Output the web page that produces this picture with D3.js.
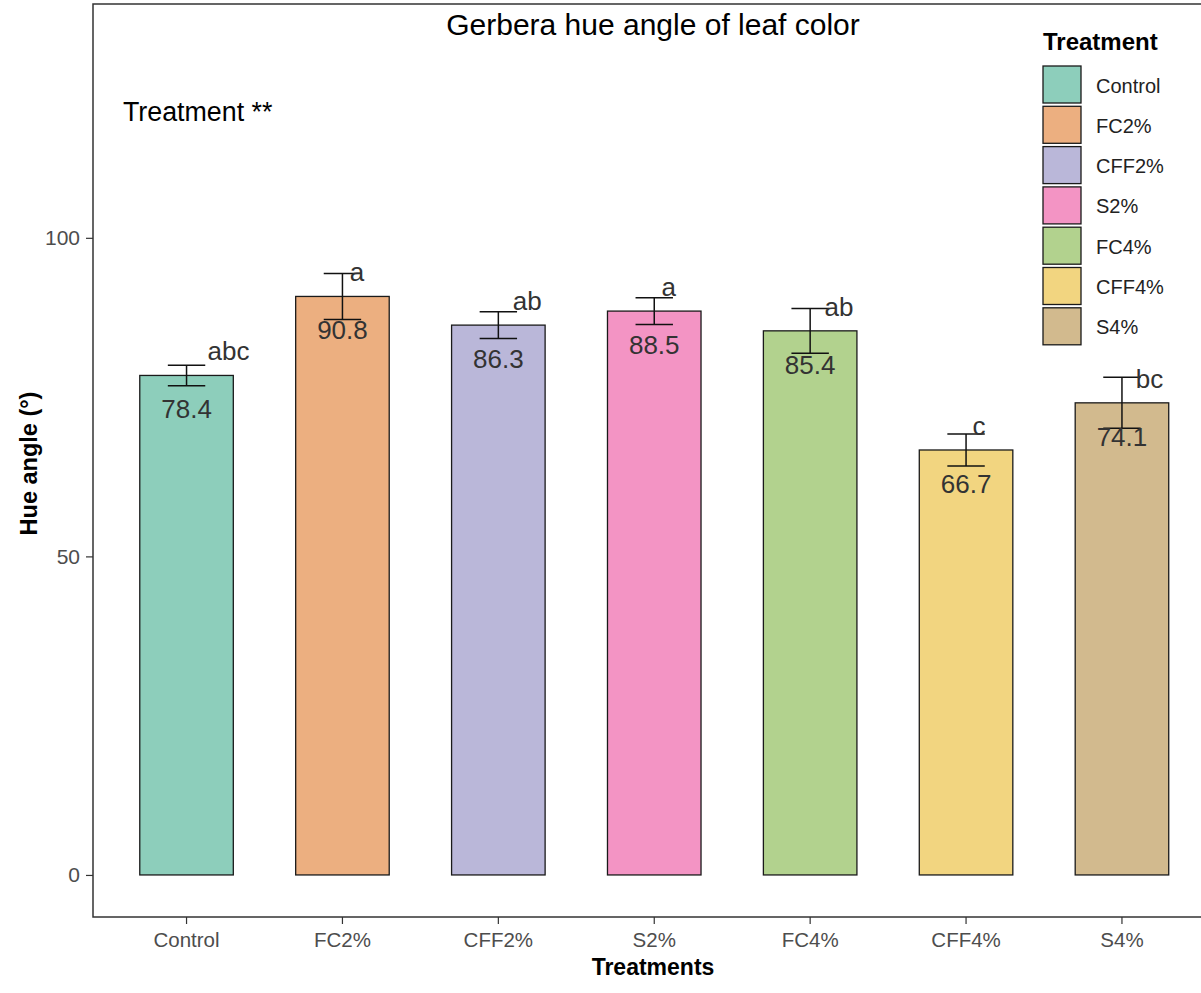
<!DOCTYPE html>
<html>
<head>
<meta charset="utf-8">
<script src="https://cdn.jsdelivr.net/npm/d3@7"></script>
<style>
  html, body { margin: 0; padding: 0; background: #fff; }
  svg { display: block; font-family: Arial, "Liberation Sans", sans-serif; }
</style>
</head>
<body>
<svg id="chart" width="1201" height="993"></svg>
<script>
const categories = ["Control", "FC2%", "CFF2%", "S2%", "FC4%", "CFF4%", "S4%"];
const means = [78.4, 90.8, 86.3, 88.5, 85.4, 66.7, 74.1];
const errors = [1.6, 3.6, 2.1, 2.1, 3.5, 2.5, 4.0];
const letters = ["abc", "a", "ab", "a", "ab", "c", "bc"];
const colors = ["#1b9e77", "#d95f02", "#7570b3", "#e7298a", "#66a61e", "#e6ab02", "#a6761d"];
const yTicks = [0, 50, 100];
const titleText = "Gerbera hue angle of leaf color";
const annotationText = "Treatment **";
const xTitle = "Treatments";
const yTitle = "Hue angle (°)";
const legendTitle = "Treatment";

const svg = d3.select("#chart");
const panel = { left: 93, right: 1215.5, top: 4, bottom: 917 };

const x = d3.scaleBand().domain(categories)
  .range([panel.left, panel.right]).paddingInner(0.4).paddingOuter(0.3);
const y = d3.scaleLinear().domain([-6.6, 136.7]).range([panel.bottom, panel.top]);
const color = d3.scaleOrdinal().domain(categories).range(colors);

svg.append("rect").attr("width", 1201).attr("height", 993).attr("fill", "#fff");

// bars
const g = svg.append("g");
g.selectAll("rect.bar").data(categories).join("rect")
  .attr("class", "bar")
  .attr("x", d => x(d))
  .attr("width", x.bandwidth())
  .attr("y", (d, i) => y(means[i]))
  .attr("height", (d, i) => y(0) - y(means[i]))
  .attr("fill", d => color(d))
  .attr("fill-opacity", 0.5)
  .attr("stroke", "#1a1a1a")
  .attr("stroke-width", 1.3);

// error bars
const capW = x.bandwidth() * 0.4;
categories.forEach((c, i) => {
  const cx = x(c) + x.bandwidth() / 2;
  const eg = g.append("g").attr("stroke", "#111").attr("stroke-width", 1.5);
  eg.append("line").attr("x1", cx).attr("x2", cx)
    .attr("y1", y(means[i] + errors[i])).attr("y2", y(means[i] - errors[i]));
  eg.append("line").attr("x1", cx - capW / 2).attr("x2", cx + capW / 2)
    .attr("y1", y(means[i] + errors[i])).attr("y2", y(means[i] + errors[i]));
  eg.append("line").attr("x1", cx - capW / 2).attr("x2", cx + capW / 2)
    .attr("y1", y(means[i] - errors[i])).attr("y2", y(means[i] - errors[i]));
});

// value labels
g.selectAll("text.val").data(categories).join("text")
  .attr("class", "val")
  .attr("x", d => x(d) + x.bandwidth() / 2)
  .attr("y", (d, i) => y(means[i] - 5.3))
  .attr("text-anchor", "middle")
  .attr("dominant-baseline", "central")
  .attr("font-size", 26)
  .attr("fill", "#333")
  .text((d, i) => means[i].toFixed(1));

// significance letters (hjust = -0.5)
g.selectAll("text.let").data(categories).join("text")
  .attr("class", "let")
  .attr("y", (d, i) => y(means[i] + 3.8))
  .attr("dominant-baseline", "central")
  .attr("font-size", 26)
  .attr("fill", "#333")
  .text((d, i) => letters[i])
  .each(function (d) {
    const w = this.getComputedTextLength();
    d3.select(this).attr("x", x(d) + x.bandwidth() / 2 + w * 0.5);
  });

// panel border
svg.append("rect")
  .attr("x", panel.left).attr("y", panel.top)
  .attr("width", panel.right - panel.left).attr("height", panel.bottom - panel.top)
  .attr("fill", "none").attr("stroke", "#333").attr("stroke-width", 1.5);

// axes
const yAxis = d3.axisLeft(y).tickValues(yTicks).tickSize(7).tickPadding(6);
const ya = svg.append("g").attr("transform", `translate(${panel.left},0)`).call(yAxis);
ya.select(".domain").remove();
ya.selectAll("line").attr("stroke", "#333").attr("stroke-width", 1.2);
ya.selectAll("text").attr("font-size", 21).attr("fill", "#4d4d4d")
  .attr("font-family", "Arial, 'Liberation Sans', sans-serif");

const xAxis = d3.axisBottom(x).tickSize(7).tickPadding(8);
const xa = svg.append("g").attr("transform", `translate(0,${panel.bottom})`).call(xAxis);
xa.select(".domain").remove();
xa.selectAll("line").attr("stroke", "#333").attr("stroke-width", 1.2);
xa.selectAll("text").attr("font-size", 20.5).attr("fill", "#4d4d4d")
  .attr("font-family", "Arial, 'Liberation Sans', sans-serif");

// titles
svg.append("text").attr("x", 653).attr("y", 35).attr("text-anchor", "middle")
  .attr("font-size", 30).attr("fill", "#000").text(titleText);
svg.append("text").attr("x", 123).attr("y", 121)
  .attr("font-size", 26.8).attr("fill", "#000").text(annotationText);
svg.append("text").attr("x", 653).attr("y", 975).attr("text-anchor", "middle")
  .attr("font-size", 23).attr("font-weight", "bold").attr("fill", "#000").text(xTitle);
svg.append("text").attr("transform", `translate(37,${(panel.top + panel.bottom) / 2 + 3}) rotate(-90)`)
  .attr("text-anchor", "middle")
  .attr("font-size", 23.5).attr("font-weight", "bold").attr("fill", "#000").text(yTitle);

// legend
const lg = svg.append("g");
lg.append("text").attr("x", 1043).attr("y", 50)
  .attr("font-size", 24).attr("font-weight", "bold").attr("fill", "#000").text(legendTitle);
const keyH = 37, keyW = 38, step = 40.3, top0 = 66;
categories.forEach((c, i) => {
  lg.append("rect").attr("x", 1043).attr("y", top0 + i * step)
    .attr("width", keyW).attr("height", keyH)
    .attr("fill", color(c)).attr("fill-opacity", 0.5)
    .attr("stroke", "#1a1a1a").attr("stroke-width", 1.3);
  lg.append("text").attr("x", 1096).attr("y", top0 + i * step + keyH / 2 + 1)
    .attr("dominant-baseline", "central")
    .attr("font-size", 20).attr("fill", "#222").text(c);
});
</script>
</body>
</html>
